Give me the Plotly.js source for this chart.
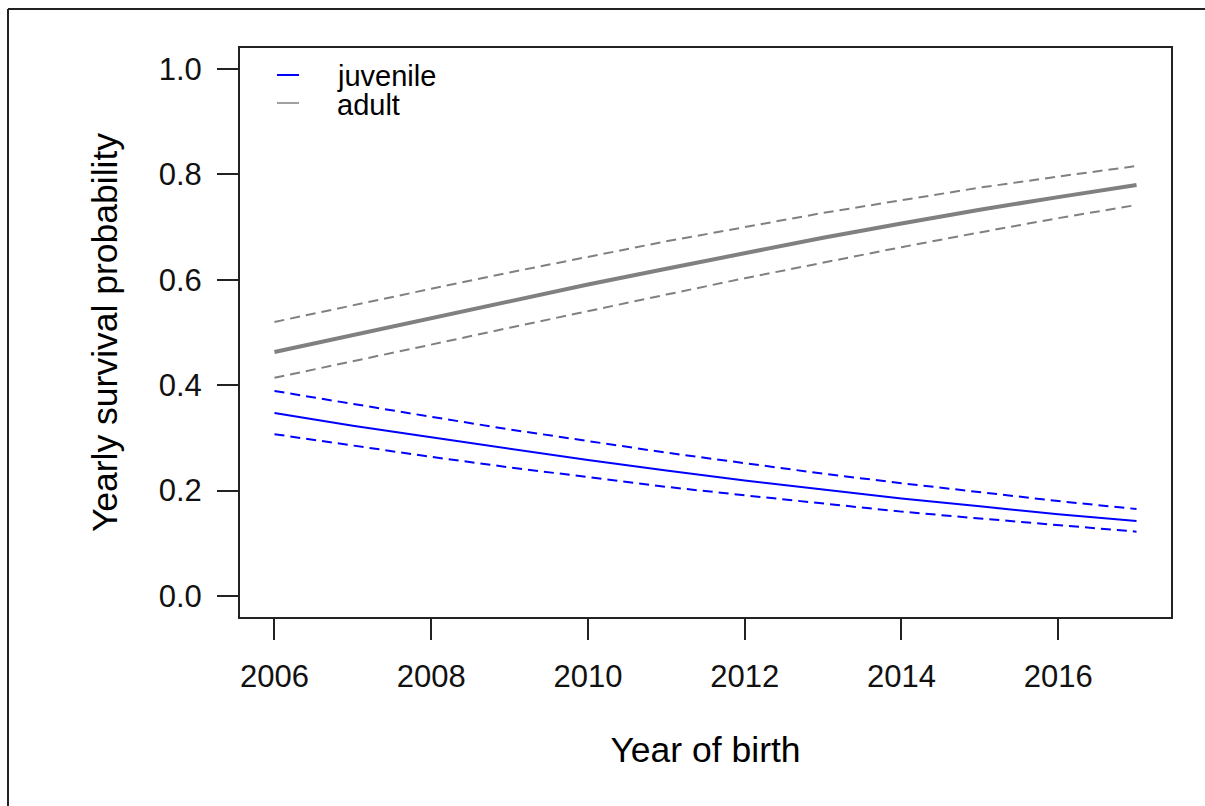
<!DOCTYPE html>
<html>
<head>
<meta charset="utf-8">
<script src="https://cdn.plot.ly/plotly-3.0.1.min.js"></script>
<style>html,body{margin:0;padding:0;background:#fff;}#chart{width:1205px;height:806px;}</style>
</head>
<body>
<div id="chart"></div>
<script>
// Data
const years = [2006, 2007, 2008, 2009, 2010, 2011, 2012, 2013, 2014, 2015, 2016, 2017];
const juvenileMean  = [0.347, 0.323, 0.301, 0.279, 0.258, 0.238, 0.219, 0.202, 0.185, 0.170, 0.155, 0.142];
const juvenileUpper = [0.389, 0.364, 0.340, 0.316, 0.294, 0.272, 0.252, 0.232, 0.214, 0.197, 0.180, 0.165];
const juvenileLower = [0.307, 0.285, 0.264, 0.244, 0.225, 0.207, 0.191, 0.175, 0.160, 0.147, 0.134, 0.122];
const adultMean  = [0.463, 0.495, 0.527, 0.559, 0.591, 0.621, 0.651, 0.680, 0.707, 0.733, 0.757, 0.780];
const adultUpper = [0.520, 0.552, 0.583, 0.614, 0.644, 0.673, 0.700, 0.727, 0.751, 0.775, 0.796, 0.816];
const adultLower = [0.414, 0.445, 0.477, 0.509, 0.541, 0.572, 0.603, 0.633, 0.662, 0.690, 0.717, 0.742];
const xTicks = [2006, 2008, 2010, 2012, 2014, 2016];
const yTicks = [0, 0.2, 0.4, 0.6, 0.8, 1.0];
const yTickLabels = ['0.0', '0.2', '0.4', '0.6', '0.8', '1.0'];
const legendLabels = ['juvenile', 'adult'];

const BLUE = '#0000FF';
const GRAY = '#808080';
const FONT = 'Liberation Sans, Arial, sans-serif';
const dash = '10px,6px';

const traces = [
  {x: years, y: adultUpper, mode: 'lines', line: {color: GRAY, width: 2, dash: dash}, name: 'adult upper'},
  {x: years, y: adultLower, mode: 'lines', line: {color: GRAY, width: 2, dash: dash}, name: 'adult lower'},
  {x: years, y: adultMean, mode: 'lines', line: {color: GRAY, width: 4}, name: legendLabels[1]},
  {x: years, y: juvenileUpper, mode: 'lines', line: {color: BLUE, width: 2, dash: dash}, name: 'juvenile upper'},
  {x: years, y: juvenileLower, mode: 'lines', line: {color: BLUE, width: 2, dash: dash}, name: 'juvenile lower'},
  {x: years, y: juvenileMean, mode: 'lines', line: {color: BLUE, width: 2}, name: legendLabels[0]}
];

// plot area geometry (px): x 240..1171, y 48..617
const W = 931, H = 569, L = 240, T = 48;
const px = v => (v - L) / W;
const py = v => (T + H - v) / H;

const layout = {
  width: 1205, height: 806,
  margin: {l: 240, r: 34, t: 48, b: 189, pad: 0},
  paper_bgcolor: '#ffffff', plot_bgcolor: '#ffffff',
  showlegend: false,
  font: {family: FONT, color: '#000000', size: 31},
  xaxis: {
    range: [2005.56, 2017.44], tickvals: xTicks, ticktext: xTicks.map(String),
    ticks: 'outside', ticklen: 21, tickwidth: 2, tickcolor: '#222222',
    ticklabelstandoff: 10,
    showline: true, mirror: true, linecolor: '#222222', linewidth: 2,
    showgrid: false, zeroline: false,
    tickfont: {family: FONT, size: 31, color: '#111111'},
    title: {text: 'Year of birth', font: {family: FONT, size: 35.5, color: '#000000'}, standoff: 44}
  },
  yaxis: {
    range: [-0.04, 1.04], tickvals: yTicks, ticktext: yTickLabels,
    ticks: 'outside', ticklen: 21, tickwidth: 2, tickcolor: '#222222',
    ticklabelstandoff: 9,
    showline: true, mirror: true, linecolor: '#222222', linewidth: 2,
    showgrid: false, zeroline: false,
    tickfont: {family: FONT, size: 31, color: '#111111'},
    title: {text: 'Yearly survival probability', font: {family: FONT, size: 35.5, color: '#000000'}, standoff: 30}
  },
  shapes: [
    // outer frame (left and top edges visible)
    {type: 'line', xref: 'paper', yref: 'paper', x0: px(8), x1: px(1210), y0: py(9), y1: py(9), line: {color: '#222222', width: 2}},
    {type: 'line', xref: 'paper', yref: 'paper', x0: px(8), x1: px(8), y0: py(9), y1: py(812), line: {color: '#222222', width: 2}},
    // legend keys
    {type: 'line', xref: 'paper', yref: 'paper', x0: px(277), x1: px(299), y0: py(75), y1: py(75), line: {color: BLUE, width: 2}},
    {type: 'line', xref: 'paper', yref: 'paper', x0: px(277), x1: px(299), y0: py(103), y1: py(103), line: {color: '#A0A0A0', width: 2}}
  ],
  annotations: [
    {xref: 'paper', yref: 'paper', x: px(335), y: py(76), xanchor: 'left', yanchor: 'middle', showarrow: false,
     text: legendLabels[0], font: {family: FONT, size: 29, color: '#000000'}},
    {xref: 'paper', yref: 'paper', x: px(335), y: py(105), xanchor: 'left', yanchor: 'middle', showarrow: false,
     text: legendLabels[1], font: {family: FONT, size: 29, color: '#000000'}}
  ]
};

Plotly.newPlot('chart', traces, layout, {staticPlot: true, displayModeBar: false});
</script>
</body>
</html>
